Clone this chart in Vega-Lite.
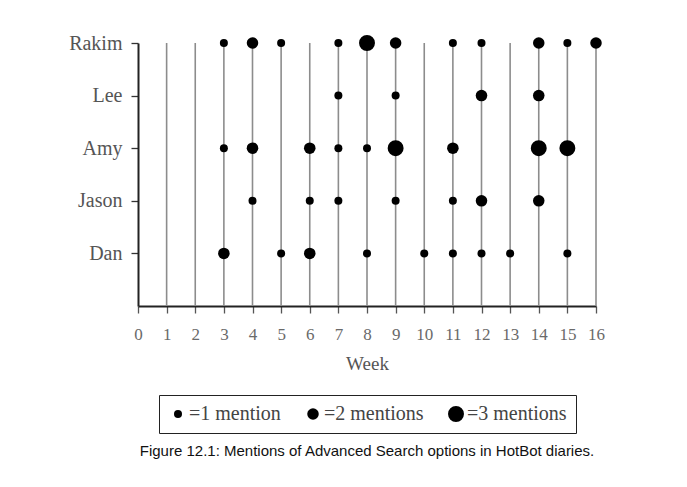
{
  "$schema": "https://vega.github.io/schema/vega-lite/v6.json",
  "autosize": {"type": "none"},
  "width": 458,
  "height": 263,
  "padding": {"left": 138, "top": 43, "right": 91, "bottom": 181},
  "background": "white",
  "config": {"view": {"stroke": null}},
  "title": {
    "text": "Figure 12.1: Mentions of Advanced Search options in HotBot diaries.",
    "orient": "bottom",
    "anchor": "middle",
    "frame": "group",
    "font": "Liberation Sans",
    "fontSize": 15,
    "fontWeight": "normal",
    "color": "#111111",
    "offset": 10
  },
  "datasets": {
    "weeks": [
      {"week": 1, "top": "Rakim", "base": "_"}, {"week": 2, "top": "Rakim", "base": "_"},
      {"week": 3, "top": "Rakim", "base": "_"}, {"week": 4, "top": "Rakim", "base": "_"},
      {"week": 5, "top": "Rakim", "base": "_"}, {"week": 6, "top": "Rakim", "base": "_"},
      {"week": 7, "top": "Rakim", "base": "_"}, {"week": 8, "top": "Rakim", "base": "_"},
      {"week": 9, "top": "Rakim", "base": "_"}, {"week": 10, "top": "Rakim", "base": "_"},
      {"week": 11, "top": "Rakim", "base": "_"}, {"week": 12, "top": "Rakim", "base": "_"},
      {"week": 13, "top": "Rakim", "base": "_"}, {"week": 14, "top": "Rakim", "base": "_"},
      {"week": 15, "top": "Rakim", "base": "_"}, {"week": 16, "top": "Rakim", "base": "_"}
    ],
    "diary": [
      {"person": "Rakim", "week": 3, "count": 1},
      {"person": "Rakim", "week": 4, "count": 2},
      {"person": "Rakim", "week": 5, "count": 1},
      {"person": "Rakim", "week": 7, "count": 1},
      {"person": "Rakim", "week": 8, "count": 3},
      {"person": "Rakim", "week": 9, "count": 2},
      {"person": "Rakim", "week": 11, "count": 1},
      {"person": "Rakim", "week": 12, "count": 1},
      {"person": "Rakim", "week": 14, "count": 2},
      {"person": "Rakim", "week": 15, "count": 1},
      {"person": "Rakim", "week": 16, "count": 2},
      {"person": "Lee", "week": 7, "count": 1},
      {"person": "Lee", "week": 9, "count": 1},
      {"person": "Lee", "week": 12, "count": 2},
      {"person": "Lee", "week": 14, "count": 2},
      {"person": "Amy", "week": 3, "count": 1},
      {"person": "Amy", "week": 4, "count": 2},
      {"person": "Amy", "week": 6, "count": 2},
      {"person": "Amy", "week": 7, "count": 1},
      {"person": "Amy", "week": 8, "count": 1},
      {"person": "Amy", "week": 9, "count": 3},
      {"person": "Amy", "week": 11, "count": 2},
      {"person": "Amy", "week": 14, "count": 3},
      {"person": "Amy", "week": 15, "count": 3},
      {"person": "Jason", "week": 4, "count": 1},
      {"person": "Jason", "week": 6, "count": 1},
      {"person": "Jason", "week": 7, "count": 1},
      {"person": "Jason", "week": 9, "count": 1},
      {"person": "Jason", "week": 11, "count": 1},
      {"person": "Jason", "week": 12, "count": 2},
      {"person": "Jason", "week": 14, "count": 2},
      {"person": "Dan", "week": 3, "count": 2},
      {"person": "Dan", "week": 5, "count": 1},
      {"person": "Dan", "week": 6, "count": 2},
      {"person": "Dan", "week": 8, "count": 1},
      {"person": "Dan", "week": 10, "count": 1},
      {"person": "Dan", "week": 11, "count": 1},
      {"person": "Dan", "week": 12, "count": 1},
      {"person": "Dan", "week": 13, "count": 1},
      {"person": "Dan", "week": 15, "count": 1}
    ]
  },
  "encoding": {
    "x": {
      "field": "week",
      "type": "ordinal",
      "scale": {"type": "point", "domain": [0,1,2,3,4,5,6,7,8,9,10,11,12,13,14,15,16], "padding": 0},
      "axis": {
        "title": "Week",
        "labelOverlap": false,
        "labelAngle": 0,
        "grid": false,
        "domainColor": "#222222",
        "domainWidth": 2,
        "tickColor": "#555555",
        "tickWidth": 1.3,
        "tickSize": 7,
        "labelFont": "Liberation Serif",
        "labelFontSize": 17,
        "labelColor": "#6a6a6a",
        "labelPadding": 13,
        "titleFont": "Liberation Serif",
        "titleFontSize": 19,
        "titleFontWeight": "normal",
        "titleColor": "#555555",
        "titlePadding": 12
      }
    }
  },
  "layer": [
    {
      "data": {"name": "weeks"},
      "mark": {"type": "rule", "color": "#8c8c8c", "strokeWidth": 1.6},
      "encoding": {
        "y": {"field": "top", "type": "nominal"},
        "y2": {"field": "base"}
      }
    },
    {
      "data": {"name": "diary"},
      "mark": {"type": "circle", "color": "#000000", "opacity": 1},
      "encoding": {
        "y": {
          "field": "person",
          "type": "nominal",
          "scale": {"type": "point", "domain": ["Rakim", "Lee", "Amy", "Jason", "Dan", "_"], "padding": 0},
          "axis": {
            "title": null,
            "values": ["Rakim", "Lee", "Amy", "Jason", "Dan"],
            "grid": false,
            "domainColor": "#222222",
            "domainWidth": 2,
            "tickColor": "#333333",
            "tickWidth": 1.3,
            "tickSize": 7,
            "labelFont": "Liberation Serif",
            "labelFontSize": 20,
            "labelColor": "#555555",
            "labelPadding": 9
          }
        },
        "size": {
          "field": "count",
          "type": "quantitative",
          "scale": {"type": "linear", "domain": [1, 2, 3], "range": [64, 133, 254]},
          "legend": {
            "title": null,
            "orient": "none",
            "direction": "horizontal",
            "legendX": 21,
            "legendY": 352,
            "values": [1, 2, 3],
            "symbolType": "circle",
            "symbolFillColor": "#000000",
            "symbolStrokeWidth": 0,
            "symbolOpacity": 1,
            "labelExpr": "'=' + datum.value + (datum.value == 1 ? ' mention' : ' mentions')",
            "labelFont": "Liberation Serif",
            "labelFontSize": 20,
            "labelColor": "#444444",
            "labelOffset": 1,
            "columnPadding": 22,
            "padding": 9,
            "strokeColor": "#222222"
          }
        }
      }
    }
  ]
}
